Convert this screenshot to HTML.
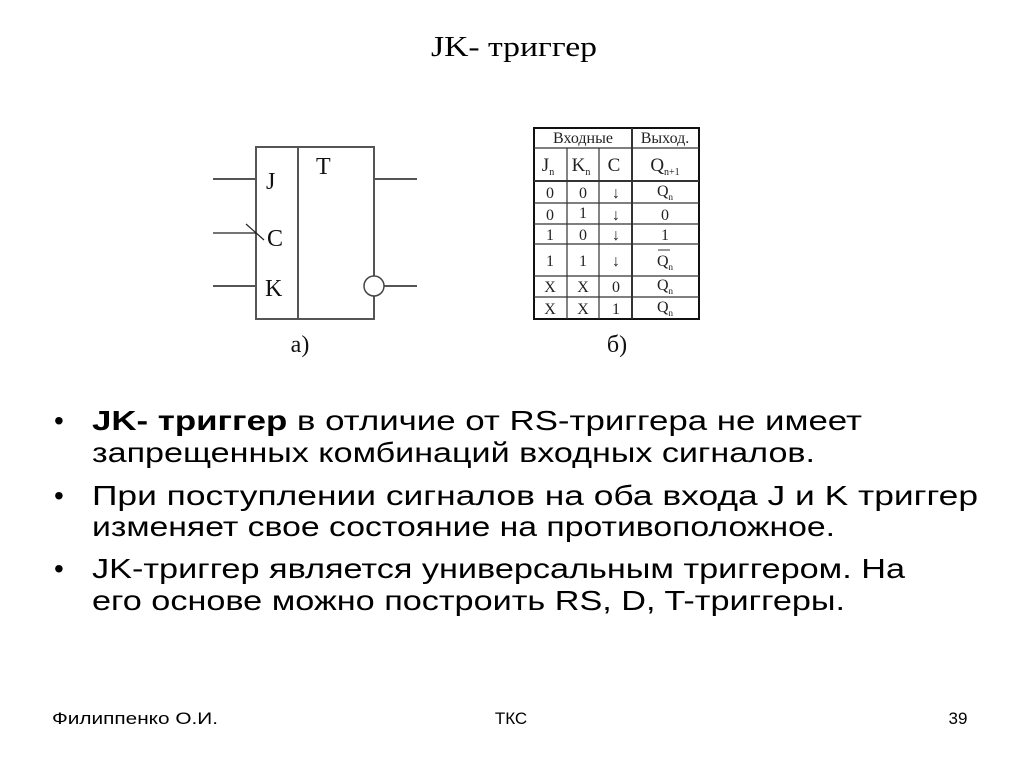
<!DOCTYPE html>
<html><head><meta charset="utf-8"><style>
html,body{margin:0;padding:0;background:#fff;}
svg{display:block;}
</style></head><body>
<svg width="1024" height="767" viewBox="0 0 1024 767" xmlns="http://www.w3.org/2000/svg">
<rect width="1024" height="767" fill="#fff"/>
<text x="431" y="56" textLength="166" lengthAdjust="spacingAndGlyphs" font-family="Liberation Serif, serif" font-size="28">JK- триггер</text>

<g stroke="#555" stroke-width="2" fill="none">
<rect x="256" y="147" width="118" height="172"/>
<line x1="298" y1="147" x2="298" y2="319"/>
<line x1="213" y1="179" x2="256" y2="179"/>
<line x1="213" y1="286" x2="256" y2="286"/>
<line x1="374" y1="179" x2="417" y2="179"/>
<line x1="384" y1="286" x2="417" y2="286"/>
</g>
<line x1="213" y1="233" x2="256" y2="233" stroke="#222" stroke-width="1.2"/>
<line x1="246" y1="224" x2="264" y2="240" stroke="#222" stroke-width="1.2"/>
<circle cx="374" cy="286" r="10" fill="#fff" stroke="#444" stroke-width="1.5"/>
<g font-family="Liberation Serif, serif" font-size="24" fill="#111">
<text x="266" y="189">J</text>
<text x="316" y="174">T</text>
<text x="267" y="246">C</text>
<text x="265" y="296">K</text>
<text x="300" y="352" text-anchor="middle">а)</text>
<text x="617" y="352" text-anchor="middle">б)</text>
</g>

<g stroke="#333" stroke-width="1.2" fill="none">
<rect x="534" y="128" width="165" height="191" stroke-width="2" stroke="#111"/>
<line x1="534" y1="148" x2="699" y2="148"/>
<line x1="534" y1="181" x2="699" y2="181" stroke-width="2"/>
<line x1="534" y1="203" x2="699" y2="203"/>
<line x1="534" y1="224" x2="699" y2="224"/>
<line x1="534" y1="244" x2="699" y2="244"/>
<line x1="534" y1="276" x2="699" y2="276"/>
<line x1="534" y1="297" x2="699" y2="297"/>
<line x1="567" y1="148" x2="567" y2="319"/>
<line x1="599" y1="148" x2="599" y2="319"/>
<line x1="632" y1="128" x2="632" y2="319" stroke-width="2"/>
</g>
<g font-family="Liberation Serif, serif" font-size="16" fill="#222" text-anchor="middle">
<text x="583" y="143">Входные</text>
<text x="665" y="143">Выход.</text>
<text x="548" y="171" font-size="19">J<tspan font-size="10" dy="4">n</tspan></text>
<text x="581" y="171" font-size="19">K<tspan font-size="10" dy="4">n</tspan></text>
<text x="614" y="171" font-size="19">C</text>
<text x="665" y="171" font-size="19">Q<tspan font-size="10" dy="4">n+1</tspan></text>
<text x="550" y="198">0</text><text x="583" y="198">0</text><text x="616" y="198">↓</text><text x="665" y="196">Q<tspan font-size="9" dy="4">n</tspan></text>
<text x="550" y="220">0</text><text x="583" y="218">1</text><text x="616" y="220">↓</text><text x="665" y="220">0</text>
<text x="550" y="240">1</text><text x="583" y="240">0</text><text x="616" y="240">↓</text><text x="665" y="240">1</text>
<text x="550" y="266">1</text><text x="583" y="266">1</text><text x="616" y="266">↓</text><text x="665" y="266">Q<tspan font-size="9" dy="4">n</tspan></text>
<text x="550" y="292">X</text><text x="583" y="292">X</text><text x="616" y="292">0</text><text x="665" y="290">Q<tspan font-size="9" dy="4">n</tspan></text>
<text x="550" y="314">X</text><text x="583" y="314">X</text><text x="616" y="314">1</text><text x="665" y="312">Q<tspan font-size="9" dy="4">n</tspan></text>
</g>
<line x1="658" y1="250" x2="670" y2="250" stroke="#333" stroke-width="1"/>

<g font-family="Liberation Sans, Arial, sans-serif" font-size="28" fill="#000" lengthAdjust="spacingAndGlyphs">
<text x="54" y="430">•</text>
<text x="92" y="430" textLength="770" lengthAdjust="spacingAndGlyphs"><tspan font-weight="bold">JK- триггер</tspan> в отличие от RS-триггера не имеет</text>
<text x="92" y="462" textLength="723" lengthAdjust="spacingAndGlyphs">запрещенных комбинаций входных сигналов.</text>
<text x="54" y="505">•</text>
<text x="92" y="505" textLength="886" lengthAdjust="spacingAndGlyphs">При поступлении сигналов на оба входа J и K триггер</text>
<text x="92" y="536" textLength="743" lengthAdjust="spacingAndGlyphs">изменяет свое состояние на противоположное.</text>
<text x="54" y="578">•</text>
<text x="92" y="578" textLength="813" lengthAdjust="spacingAndGlyphs">JK-триггер является универсальным триггером. На</text>
<text x="92" y="610" textLength="753" lengthAdjust="spacingAndGlyphs">его основе можно построить RS, D, T-триггеры.</text>
</g>

<g font-family="Liberation Sans, Arial, sans-serif" font-size="17" fill="#000">
<text x="52" y="724" textLength="166" lengthAdjust="spacingAndGlyphs">Филиппенко О.И.</text>
<text x="511" y="724" text-anchor="middle">ТКС</text>
<text x="958" y="724" text-anchor="middle">39</text>
</g>
</svg>
</body></html>
